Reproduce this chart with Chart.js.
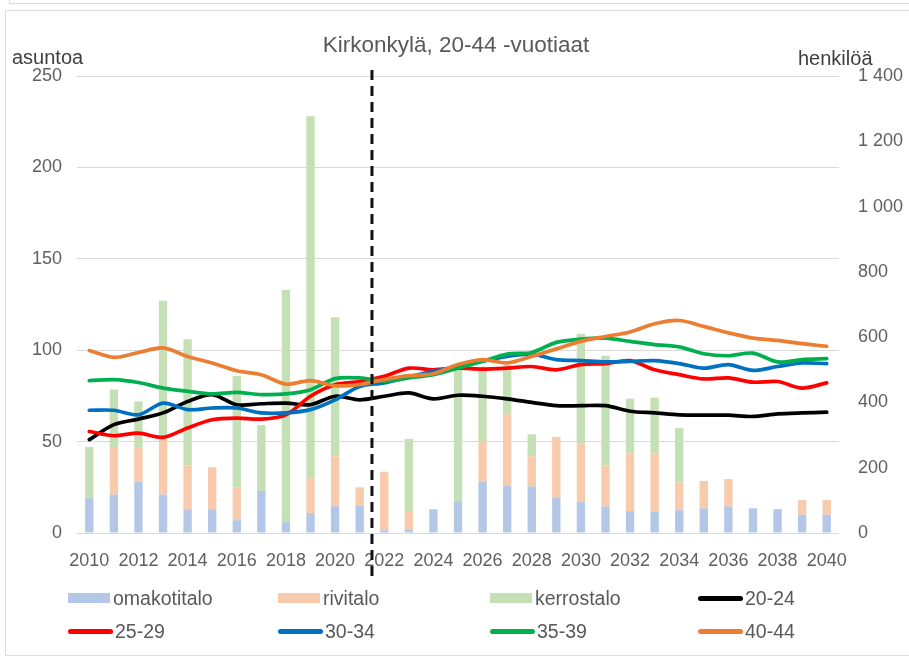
<!DOCTYPE html>
<html>
<head>
<meta charset="utf-8">
<script src="https://cdn.jsdelivr.net/npm/chart.js@4"></script>
<style>
  body { margin: 0; background: #fff; font-family: "Liberation Sans", Arial, sans-serif; }
  #wrap { position: relative; width: 909px; height: 657px; overflow: hidden; }
  #frame { position: absolute; left: 5px; top: 10px; width: 920px; height: 644px; border: 1px solid #dcdcdc; }
  #frame-top { position: absolute; left: 9px; top: -20px; width: 920px; height: 22px; border: 1px solid #dcdcdc; }
  #chart-box { position: absolute; left: 0; top: 0; width: 909px; height: 657px; }
  .txt { position: absolute; color: #595959; white-space: nowrap; line-height: 1; }
  #title { left: 0; width: 912px; text-align: center; top: 34px; font-size: 22.5px; }
  #unit-left { left: 12px; top: 47px; font-size: 20px; color: #404040; }
  #unit-right { left: 798px; top: 48px; font-size: 20px; color: #404040; }
  .leg { position: absolute; display: flex; align-items: center; font-size: 19.5px; color: #595959; }
  .leg .sw-bar { width: 42px; height: 10px; margin-right: 3px; }
  .leg .sw-line { width: 45px; height: 5px; border-radius: 3px; margin-right: 2px; }
</style>
</head>
<body>
<div id="wrap">
  <div id="frame-top"></div>
  <div id="frame"></div>
  <div id="chart-box"><canvas id="chart"></canvas></div>
  <div class="txt" id="title">Kirkonkylä, 20-44 -vuotiaat</div>
  <div class="txt" id="unit-left">asuntoa</div>
  <div class="txt" id="unit-right">henkilöä</div>
  <div id="legend"></div>
</div>
<script>
// Categories
const years = [2010, 2011, 2012, 2013, 2014, 2015, 2016, 2017, 2018, 2019, 2020,
    2021, 2022, 2023, 2024, 2025, 2026, 2027, 2028, 2029, 2030,
    2031, 2032, 2033, 2034, 2035, 2036, 2037, 2038, 2039, 2040];

// Dwellings (left axis, asuntoa)
const omakotitalo = [19, 21, 28, 21, 13, 13, 7, 23, 6, 11, 15,
    15, 1.5, 2, 13, 17, 28, 26, 25.5, 19.5, 17,
    14.5, 12, 11.5, 12.5, 13.5, 14.5, 13.5, 13, 10, 10];
const rivitalo = [0, 25.5, 19, 32, 24, 23, 18, 0, 0, 19, 27,
    10, 32, 10, 0, 0, 22, 39, 16.5, 33, 32,
    22.5, 31.5, 32, 15, 15, 15, 0, 0, 8, 8];
const kerrostalo = [28, 32, 25, 74, 69, 0, 61, 36, 127, 198, 76,
    0, 0, 39.5, 0, 73, 41, 27, 12, 0, 60,
    60, 30, 30.5, 30, 0, 0, 0, 0, 0, 0];

// Persons by age group (right axis, henkilöä)
const age20_24 = [286, 332, 349, 368, 403, 424, 393, 396, 398, 393, 419,
    408, 419, 429, 411, 422, 419, 411, 400, 390, 390,
    390, 373, 368, 362, 361, 361, 357, 365, 368, 370];
const age25_29 = [311, 298, 306, 293, 322, 347, 352, 349, 362, 419, 454,
    464, 480, 505, 500, 505, 502, 505, 510, 500, 516,
    519, 528, 500, 485, 472, 475, 462, 464, 444, 460];
const age30_34 = [376, 376, 362, 398, 378, 383, 383, 368, 368, 378, 408,
    449, 460, 478, 495, 510, 526, 541, 548, 531, 528,
    524, 526, 528, 519, 505, 516, 498, 510, 521, 519];
const age35_39 = [467, 470, 461, 444, 434, 426, 431, 424, 426, 439, 473,
    475, 465, 475, 485, 505, 526, 548, 553, 584, 594,
    597, 587, 577, 570, 549, 543, 551, 524, 531, 534];
const age40_44 = [559, 538, 553, 567, 541, 521, 497, 485, 456, 467, 451,
    455, 470, 482, 488, 516, 531, 521, 541, 564, 587,
    602, 616, 641, 651, 633, 613, 597, 590, 580, 572];

// Axis ticks
const leftTicks = [0, 50, 100, 150, 200, 250];
const rightTicks = [0, 200, 400, 600, 800, 1000, 1200, 1400];
const forecastStart = 2022;

const tickFont = { family: '"Liberation Sans", Arial, sans-serif', size: 18 };
const tickColor = '#606060';

function barSet(label, data, color) {
    return {
        type: 'bar', label: label, data: data, backgroundColor: color,
        yAxisID: 'y', stack: 'asunnot', order: 10,
        barPercentage: 0.34, categoryPercentage: 1.0
    };
}
function lineSet(label, data, color, order) {
    return {
        type: 'line', label: label, data: data, borderColor: color, backgroundColor: color,
        yAxisID: 'y1', borderWidth: 3.7, pointRadius: 0, tension: 0.3,
        borderCapStyle: 'round', borderJoinStyle: 'round', order: order
    };
}

function spaced(v) {
    return String(v).replace(/\B(?=(\d{3})+(?!\d))/g, ' ');
}

// Dashed divider between history and forecast
const dividerPlugin = {
    id: 'divider',
    afterDatasetsDraw(chart) {
        const x = chart.scales.x;
        const i = years.indexOf(forecastStart);
        const px = (x.getPixelForValue(i - 1) + x.getPixelForValue(i)) / 2;
        const ctx = chart.ctx;
        ctx.save();
        ctx.strokeStyle = '#111';
        ctx.lineWidth = 3;
        ctx.setLineDash([10, 6]);
        ctx.beginPath();
        ctx.moveTo(px, 70);
        ctx.lineTo(px, 582);
        ctx.stroke();
        ctx.restore();
    }
};

const ctx = document.getElementById('chart').getContext('2d');
const chart = new Chart(ctx, {
    data: {
        labels: years,
        datasets: [
            barSet('omakotitalo', omakotitalo, '#B4C7E7'),
            barSet('rivitalo', rivitalo, '#F8CBAD'),
            barSet('kerrostalo', kerrostalo, '#C5E0B4'),
            lineSet('20-24', age20_24, '#000000', 5),
            lineSet('25-29', age25_29, '#FF0000', 4),
            lineSet('30-34', age30_34, '#0070C0', 3),
            lineSet('35-39', age35_39, '#00B050', 2),
            lineSet('40-44', age40_44, '#ED7D31', 1)
        ]
    },
    options: {
        responsive: true,
        maintainAspectRatio: false,
        animation: false,
        layout: { padding: { top: 76, bottom: 84, left: 0, right: 0 } },
        plugins: {
            legend: { display: false },
            tooltip: { enabled: false }
        },
        scales: {
            x: {
                stacked: true,
                grid: { display: false, drawTicks: false },
                border: { display: false },
                ticks: {
                    autoSkip: false, maxRotation: 0, padding: 17,
                    font: tickFont, color: tickColor,
                    callback: function (val, idx) {
                        return idx % 2 === 0 ? String(years[idx]) : '';
                    }
                },
                afterFit(scale) { scale.height = 40; }
            },
            y: {
                position: 'left',
                stacked: true,
                min: leftTicks[0], max: leftTicks[leftTicks.length - 1],
                afterBuildTicks(scale) { scale.ticks = leftTicks.map(v => ({ value: v })); },
                grid: { color: '#d9d9d9', lineWidth: 1, drawTicks: false },
                border: { display: false },
                ticks: { padding: 15, font: tickFont, color: tickColor },
                afterFit(scale) { scale.width = 77; }
            },
            y1: {
                position: 'right',
                stacked: false,
                min: rightTicks[0], max: rightTicks[rightTicks.length - 1],
                afterBuildTicks(scale) { scale.ticks = rightTicks.map(v => ({ value: v })); },
                grid: { display: false, drawTicks: false },
                border: { display: false },
                ticks: {
                    padding: 19, font: tickFont, color: tickColor,
                    callback: v => spaced(v)
                },
                afterFit(scale) { scale.width = 70; }
            }
        }
    },
    plugins: [dividerPlugin]
});

// Legend, 4 columns x 2 rows
const legendCols = [68, 278, 490, 698];
const legendRows = [598, 631];
const legendBox = document.getElementById('legend');
chart.data.datasets.forEach((ds, i) => {
    const item = document.createElement('div');
    item.className = 'leg';
    item.style.left = legendCols[i % 4] + 'px';
    item.style.top = (legendRows[Math.floor(i / 4)] - 11) + 'px';
    item.style.height = '22px';
    const sw = document.createElement('span');
    sw.className = ds.type === 'bar' ? 'sw-bar' : 'sw-line';
    sw.style.background = ds.type === 'bar' ? ds.backgroundColor : ds.borderColor;
    const t = document.createElement('span');
    t.textContent = ds.label;
    item.appendChild(sw);
    item.appendChild(t);
    legendBox.appendChild(item);
});
</script>
</body>
</html>
